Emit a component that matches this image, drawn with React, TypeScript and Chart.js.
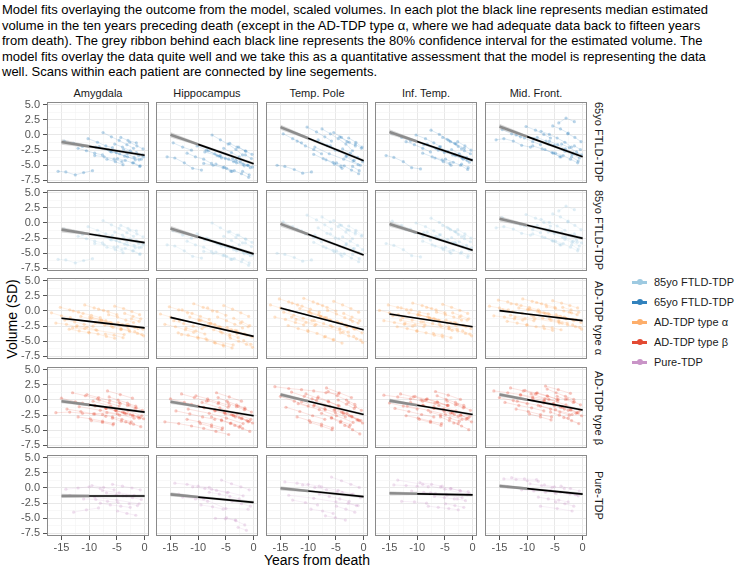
import React, { useEffect, useRef } from 'react';
import { Chart, registerables } from 'chart.js';
Chart.register(...registerables);

// ---------- text ----------
const titleLines = [
  'Model fits overlaying the outcome from the model, scaled volumes. In each plot the black line represents median estimated',
  'volume in the ten years preceding death (except in the AD-TDP type \u03b1, where we had adequate data back to fifteen years',
  'from death). The grey ribbon behind each black line represents the 80% confidence interval for the estimated volume. The',
  'model fits overlay the data quite well and we take this as a quantitative assessment that the model is representing the data',
  'well. Scans within each patient are connected by line segements.',
];
const regions = ['Amygdala', 'Hippocampus', 'Temp. Pole', 'Inf. Temp.', 'Mid. Front.'];
const rowLabels = ['65yo FTLD-TDP', '85yo FTLD-TDP', 'AD-TDP type \u03b1', 'AD-TDP type \u03b2', 'Pure-TDP'];
const legendLabels = ['85yo FTLD-TDP', '65yo FTLD-TDP', 'AD-TDP type \u03b1', 'AD-TDP type \u03b2', 'Pure-TDP'];
const xTitle = 'Years from death';
const yTitle = 'Volume (SD)';

// ---------- ticks ----------
const xMajorTicks = [-15, -10, -5, 0];
const xMinorTicks = [-17.5, -12.5, -7.5, -2.5];
const yMajorTicks = [-7.5, -5, -2.5, 0, 2.5, 5];
const yMinorTicks = [-6.25, -3.75, -1.25, 1.25, 3.75];
const xRange = [-17.6, 0.78];
const yRange = [-7.93, 5.45];

// ---------- FTLD-TDP scans (shared by 65yo / 85yo rows) ----------
const ftldYears = [
  [-15.6, -14.2, -12.5, -11.0, -9.4], [-14.5, -12.8, -11.2], [-12.0, -10.5, -9.0, -7.6], [-10.2, -8.5, -7.0, -5.8],
  [-9.0, -7.3, -5.5, -4.1], [-8.2, -6.6, -5.1], [-7.5, -6.0, -4.6, -3.2, -2.0], [-6.8, -5.3, -3.9],
  [-6.0, -4.5, -3.1, -1.7], [-5.4, -4.0, -2.6], [-4.9, -3.5, -2.2, -0.9], [-4.3, -3.0, -1.5],
  [-3.8, -2.4, -1.1, -0.2], [-3.2, -1.9, -0.6], [-2.7, -1.4, -0.3], [-2.0, -0.8], [-1.5, -0.4], [-8.8, -6.2, -3.6, -1.0],
];
const ftldAmygdala = [
  -6.0, -6.1, -6.6, -6.2, -5.9, -1.0, -1.4, -1.9, -2.2, -2.6, -3.0, -3.3, -0.6, -1.2, -1.8, -2.1,
  -3.4, -3.6, -4.0, -4.4, -1.9, -2.4, -2.9, 0.4, -0.3, -0.9, -1.6, -2.2, -4.0, -4.4, -4.9,
  -2.8, -3.1, -3.6, -4.1, -1.5, -2.0, -2.6, -3.9, -4.2, -4.6, -5.2, -0.4, -0.9, -1.3,
  -2.4, -2.9, -3.4, -3.6, -3.1, -3.7, -4.0, -1.2, -1.8, -2.3, -4.6, -5.1, -2.9, -3.3, -2.0, -2.7, -3.5, -4.1,
];
const ftldHippocampus = [
  -3.6, -3.8, -4.6, -5.5, -5.8, -1.3, -2.0, -2.5, -3.0, -3.6, -4.0, -4.7, -1.8, -2.5, -3.1, -3.8,
  -4.7, -5.0, -5.4, -6.0, -2.6, -3.4, -3.9, 0.0, -0.8, -1.5, -2.4, -3.3, -4.8, -5.3, -6.0,
  -3.4, -4.0, -4.6, -5.1, -2.2, -2.9, -3.6, -5.5, -5.9, -6.4, -7.0, -1.4, -2.0, -2.6,
  -3.9, -4.4, -5.0, -5.3, -4.2, -4.8, -5.4, -2.0, -2.7, -3.2, -6.0, -6.6, -3.3, -3.9, -2.8, -3.5, -4.4, -5.0,
];
const ftldTempPole = [
  -5.0, -5.2, -5.7, -6.3, -6.1, 0.2, -0.6, -1.3, -1.0, -1.8, -2.4, -3.1, 1.3, 0.5, -0.3, -1.0,
  -3.2, -3.9, -4.5, -5.2, -0.8, -1.7, -2.5, 1.0, 0.2, -0.6, -1.5, -2.6, -4.1, -4.8, -5.5,
  -1.8, -2.6, -3.4, -4.2, 0.4, -0.4, -1.2, -4.6, -5.1, -5.8, -6.4, -0.3, -1.1, -1.8,
  -2.3, -3.0, -3.7, -4.4, -3.6, -4.3, -5.0, -0.5, -1.2, -2.0, -5.2, -5.9, -1.5, -2.2, -2.0, -3.1, -4.0, -4.9,
];
const ftldInfTemp = [
  -3.4, -3.7, -4.4, -5.4, -5.6, 0.3, -0.4, -1.0, -1.1, -1.6, -2.2, -2.8, 0.0, -0.6, -1.3, -1.9,
  -3.0, -3.6, -4.1, -4.7, -1.5, -2.2, -2.9, 0.8, 0.1, -0.7, -1.4, -2.3, -3.8, -4.4, -5.0,
  -2.0, -2.7, -3.4, -4.0, -0.4, -1.1, -1.9, -4.0, -4.5, -5.0, -5.7, -0.9, -1.5, -2.2,
  -2.4, -3.1, -3.7, -4.1, -3.2, -3.8, -4.5, -1.1, -1.8, -2.5, -4.8, -5.4, -2.6, -3.1, -1.6, -2.5, -3.3, -4.2,
];
const ftldMidFront = [
  -0.8, -0.6, -1.0, -1.7, -2.0, 0.9, 0.2, -0.3, 0.0, -0.5, -1.1, -1.6, 1.4, 0.8, 0.1, -0.5,
  -1.8, -2.3, -2.9, -3.6, -0.4, -1.0, -1.7, 0.6, 0.1, -0.5, -1.2, -2.0, -2.4, -3.0, -3.6,
  -1.0, -1.6, -2.3, -3.0, 1.5, 1.0, 0.3, -3.0, -3.4, -4.0, -4.6, 2.0, 2.8, 2.2,
  -1.5, -2.1, -2.8, -3.3, -2.7, -3.2, -3.8, 0.2, -0.4, -1.1, -3.6, -4.3, -1.8, -2.4, -0.6, -1.5, -2.4, -3.2,
];

// ---------- AD-TDP type alpha ----------
const alphaYears = [
  [-16.8, -15.0, -13.4], [-16.0, -14.1, -12.3, -10.8], [-15.2, -13.5, -11.9], [-14.4, -12.6, -10.9, -9.3],
  [-13.6, -11.8, -10.0], [-12.9, -11.1, -9.6, -8.0], [-12.2, -10.4, -8.8], [-11.5, -9.8, -8.1, -6.7],
  [-10.8, -9.1, -7.4], [-10.1, -8.4, -6.9, -5.4], [-9.5, -7.8, -6.2], [-8.9, -7.2, -5.7, -4.3],
  [-8.3, -6.6, -5.0], [-7.7, -6.0, -4.5, -3.0], [-7.1, -5.5, -3.9], [-6.5, -4.9, -3.4, -2.0],
  [-6.0, -4.3, -2.8], [-5.4, -3.8, -2.3, -0.9], [-4.8, -3.3, -1.8], [-4.2, -2.7, -1.3, -0.2],
  [-3.6, -2.1, -0.7], [-3.0, -1.6, -0.3], [-2.4, -1.0], [-1.8, -0.5], [-9.9, -7.0, -4.0, -1.2], [-13.0, -8.6, -3.7],
];
const alphaAmygdala = [
  -0.3, -0.8, -1.1, -2.0, -2.2, -2.6, -2.9, 0.6, 0.2, -0.2, -1.5, -1.8, -2.2, -2.5,
  -3.0, -3.3, -3.6, 0.0, -0.4, -0.7, -1.1, -2.4, -2.7, -3.1, -0.9, -1.3, -1.6, -2.0,
  1.0, 0.5, 0.1, -3.5, -3.8, -4.2, -4.5, -1.1, -1.5, -1.9, -2.0, -2.3, -2.7, -3.1,
  0.3, -0.1, -0.6, -1.6, -2.0, -2.4, -2.8, -3.8, -4.0, -4.4, -0.6, -1.0, -1.5, -1.9,
  -2.5, -2.9, -3.2, 0.8, 0.4, -0.1, -0.6, -1.9, -2.3, -2.7, -3.0, -3.4, -3.7, -4.1,
  -0.4, -0.9, -1.3, -2.2, -2.6, -3.0, -1.3, -1.7, -3.4, -3.9, -1.0, -1.6, -2.3, -2.9, -2.8, -3.2, -3.9,
];
const alphaHippocampus = [
  -0.5, -1.0, -1.6, -2.2, -2.6, -3.1, -3.5, 0.7, 0.2, -0.3, -1.6, -2.1, -2.5, -2.9,
  -3.6, -4.0, -4.5, 0.2, -0.4, -0.9, -1.4, -2.8, -3.3, -3.8, -1.0, -1.6, -2.1, -2.7,
  1.2, 0.6, 0.0, -4.3, -4.8, -5.3, -5.8, -1.5, -2.0, -2.6, -2.6, -3.1, -3.6, -4.2,
  0.5, -0.1, -0.7, -2.1, -2.7, -3.2, -3.8, -5.2, -5.6, -6.1, -1.0, -1.6, -2.2, -2.8,
  -3.4, -3.9, -4.4, 0.9, 0.3, -0.3, -0.9, -2.7, -3.2, -3.8, -4.5, -5.0, -5.5, -6.0,
  -1.2, -1.8, -2.4, -3.3, -3.8, -4.3, -2.0, -2.6, -4.9, -5.5, -1.4, -2.2, -3.1, -4.0, -3.9, -4.6, -5.6,
];
const alphaTempPole = [
  1.0, 0.5, 0.0, -1.0, -1.4, -1.9, -2.3, 2.0, 1.5, 1.0, -0.2, -0.7, -1.2, -1.6,
  -2.4, -2.9, -3.4, 1.3, 0.8, 0.3, -0.2, -1.4, -1.9, -2.4, 0.4, -0.1, -0.6, -1.1,
  2.1, 1.5, 0.9, -3.2, -3.7, -4.2, -4.7, -0.4, -0.9, -1.5, -1.6, -2.1, -2.6, -3.1,
  1.2, 0.6, 0.0, -0.9, -1.5, -2.0, -2.6, -4.3, -4.8, -5.3, 0.1, -0.5, -1.1, -1.7,
  -2.4, -2.9, -3.5, 1.6, 1.0, 0.4, -0.2, -1.7, -2.3, -2.9, -3.6, -4.1, -4.6, -5.2,
  -0.4, -1.0, -1.6, -2.5, -3.0, -3.6, -1.4, -2.0, -4.2, -4.8, -0.2, -1.1, -2.0, -2.9, -1.0, -2.2, -3.5,
];
const alphaInfTemp = [
  0.1, -0.3, -0.6, -1.6, -1.9, -2.2, -2.5, 1.0, 0.6, 0.2, -0.8, -1.1, -1.5, -1.8,
  -2.6, -2.9, -3.3, 0.5, 0.2, -0.2, -0.5, -2.0, -2.3, -2.6, -0.3, -0.6, -1.0, -1.4,
  1.3, 0.9, 0.4, -3.3, -3.6, -4.0, -4.3, -0.7, -1.1, -1.5, -1.8, -2.1, -2.5, -2.9,
  0.6, 0.2, -0.3, -1.2, -1.6, -2.0, -2.4, -3.7, -4.0, -4.4, -0.2, -0.6, -1.0, -1.5,
  -2.2, -2.6, -3.0, 1.1, 0.6, 0.1, -0.4, -1.5, -1.9, -2.4, -2.9, -3.3, -3.7, -4.1,
  -0.3, -0.8, -1.3, -2.0, -2.4, -2.9, -1.0, -1.5, -3.3, -3.8, -0.6, -1.2, -1.9, -2.6, -1.5, -2.3, -3.2,
];
const alphaMidFront = [
  0.8, 0.5, 0.2, -0.8, -1.0, -1.3, -1.5, 1.8, 1.5, 1.1, 0.2, -0.1, -0.4, -0.7,
  -1.7, -2.0, -2.3, 1.2, 0.9, 0.6, 0.2, -1.0, -1.3, -1.6, 0.5, 0.2, -0.1, -0.4,
  2.0, 1.6, 1.2, -2.3, -2.6, -2.9, -3.2, 0.3, 0.0, -0.4, -0.9, -1.2, -1.5, -1.8,
  1.4, 1.0, 0.6, -0.3, -0.6, -1.0, -1.3, -2.5, -2.8, -3.1, 0.7, 0.4, 0.0, -0.3,
  -1.3, -1.6, -2.0, 1.7, 1.3, 0.9, 0.5, -0.6, -1.0, -1.4, -2.0, -2.3, -2.6, -3.0,
  0.6, 0.2, -0.2, -1.2, -1.6, -1.9, -0.2, -0.6, -2.3, -2.7, 0.3, -0.3, -0.9, -1.4, -0.7, -1.3, -2.0,
];

// ---------- AD-TDP type beta ----------
const betaYears = [
  [-16.0, -13.5, -11.2, -9.0, -6.8, -4.5], [-15.0, -12.5, -10.0], [-14.0, -11.5, -9.2, -7.0], [-13.0, -10.7, -8.5],
  [-12.0, -9.8, -7.6, -5.6], [-11.2, -9.0, -6.9], [-10.4, -8.3, -6.3, -4.4], [-9.6, -7.6, -5.7],
  [-8.9, -7.0, -5.1, -3.3], [-8.2, -6.4, -4.6], [-7.6, -5.8, -4.1, -2.4], [-7.0, -5.3, -3.6],
  [-6.4, -4.8, -3.1, -1.6], [-5.8, -4.2, -2.6], [-5.2, -3.7, -2.1, -0.8], [-4.6, -3.1, -1.7],
  [-4.0, -2.6, -1.2, -0.2], [-3.4, -2.0, -0.7], [-2.8, -1.5, -0.4], [-2.2, -1.0],
  [-9.3, -6.1, -3.0, -0.5], [-6.7, -4.4, -2.2], [-11.8, -8.0, -4.9, -1.9],
];
const betaAmygdala = [
  -2.1, -2.0, -2.2, -2.3, -2.1, -2.5, 0.3, -0.3, -0.8, -1.5, -1.9, -2.3, -2.7, 1.2, 0.7, 0.2,
  -2.8, -3.1, -3.5, -3.9, -0.5, -0.9, -1.4, 0.9, 0.4, -0.1, -0.6, -3.4, -3.7, -4.1,
  -1.0, -1.4, -1.8, -2.3, 0.0, -0.5, -1.0, -2.4, -2.8, -3.2, -3.6, -1.3, -1.7, -2.2,
  0.5, 0.0, -0.5, -1.0, -3.0, -3.5, -3.9, -1.7, -2.1, -2.5, -2.9, -0.4, -0.9, -1.4,
  -2.0, -2.4, -2.8, -3.1, -3.6, -4.0, -4.4, -0.8, -1.3, -1.7, -2.6, -3.0,
  -0.2, -1.0, -1.8, -2.6, 1.5, 0.9, 0.3, -1.1, -1.7, -2.3, -3.0,
];
const betaHippocampus = [
  -3.6, -3.9, -4.3, -4.7, -5.2, -5.7, 0.2, -0.4, -1.0, -1.8, -2.3, -2.8, -3.2, 1.0, 0.4, -0.2,
  -3.2, -3.6, -4.1, -4.6, -0.7, -1.2, -1.7, 0.7, 0.2, -0.4, -0.9, -3.9, -4.4, -4.9,
  -1.3, -1.8, -2.3, -2.8, -0.1, -0.6, -1.2, -2.8, -3.3, -3.8, -4.3, -1.6, -2.1, -2.6,
  0.4, -0.2, -0.8, -1.3, -3.4, -3.9, -4.5, -2.0, -2.5, -3.0, -3.5, -0.5, -1.1, -1.6,
  -2.4, -2.9, -3.4, -3.8, -4.2, -4.7, -5.2, -1.0, -1.5, -2.0, -3.1, -3.6,
  -0.4, -1.3, -2.3, -3.2, 1.2, 0.5, -0.2, -1.5, -2.2, -3.0, -3.9,
];
const betaTempPole = [
  2.2, 1.9, 1.7, 1.5, 1.2, 1.0, 0.6, -0.2, -1.0, -1.2, -1.9, -2.6, -3.2, 1.3, 0.6, -0.1,
  -2.8, -3.4, -4.0, -4.6, -0.3, -1.0, -1.6, 1.0, 0.3, -0.3, -1.0, -3.7, -4.3, -4.9,
  -0.8, -1.5, -2.1, -2.8, 0.5, -0.2, -0.9, -2.2, -2.9, -3.5, -4.1, -1.0, -1.7, -2.3,
  1.4, 0.7, 0.0, -0.7, -3.0, -3.7, -4.4, -1.5, -2.1, -2.8, -3.4, 0.0, -0.7, -1.4,
  -2.0, -2.6, -3.3, -3.8, -4.2, -4.9, -5.6, -0.4, -1.1, -1.7, -2.7, -3.3,
  0.2, -1.0, -2.2, -3.4, 2.0, 1.2, 0.4, -0.6, -1.6, -2.6, -3.7,
];
const betaInfTemp = [
  0.8, 0.5, 0.2, -0.2, -0.5, -0.9, -0.5, -1.0, -1.5, -1.4, -1.9, -2.4, -2.8, 1.0, 0.5, 0.0,
  -2.6, -3.0, -3.5, -3.9, -0.4, -0.9, -1.4, 0.6, 0.1, -0.4, -0.9, -3.2, -3.7, -4.2,
  -0.9, -1.4, -1.9, -2.4, 0.2, -0.3, -0.9, -2.0, -2.5, -3.0, -3.5, -1.1, -1.6, -2.1,
  0.7, 0.1, -0.4, -0.9, -2.8, -3.4, -3.9, -1.5, -2.0, -2.5, -3.0, -0.2, -0.8, -1.3,
  -2.2, -2.7, -3.2, -3.6, -3.8, -4.3, -4.9, -0.7, -1.2, -1.7, -2.5, -3.0,
  0.0, -0.9, -1.8, -2.7, 1.4, 0.8, 0.1, -1.0, -1.7, -2.4, -3.2,
];
const betaMidFront = [
  1.5, 1.2, 0.9, 0.5, 0.2, -0.2, 0.4, -0.1, -0.6, -0.4, -0.9, -1.3, -1.8, 2.0, 1.5, 1.0,
  -1.5, -1.9, -2.4, -2.8, 0.8, 0.3, -0.2, 1.6, 1.1, 0.6, 0.1, -2.3, -2.8, -3.3,
  0.0, -0.5, -1.0, -1.5, 1.2, 0.7, 0.1, -1.0, -1.5, -2.0, -2.5, -0.1, -0.6, -1.1,
  1.8, 1.2, 0.6, 0.1, -2.0, -2.5, -3.0, -0.6, -1.1, -1.6, -2.1, 0.6, 0.1, -0.4,
  -1.2, -1.7, -2.2, -2.6, -2.9, -3.4, -3.9, 0.2, -0.3, -0.8, -1.6, -2.1,
  1.0, 0.1, -0.8, -1.7, 2.3, 1.7, 1.1, -0.2, -0.9, -1.6, -2.4,
];

// ---------- Pure-TDP ----------
const pureYears = [
  [-14.2, -12.0, -10.0, -8.0], [-12.8, -10.5, -8.3], [-11.0, -8.8, -6.7, -4.8], [-9.5, -7.4, -5.5],
  [-8.0, -6.2, -4.3, -2.6], [-6.9, -5.1, -3.3], [-5.8, -4.0, -2.3, -0.8], [-4.9, -3.2, -1.6],
  [-3.9, -2.2, -0.6], [-2.8, -1.3], [-7.6, -4.6, -1.9], [-13.5, -9.0, -5.0, -1.0],
];
const pureAmygdala = [
  -0.2, 0.0, 0.2, -0.1, -4.0, -3.6, -3.3, -1.8, -1.9, -2.2, -2.4, 0.4, 0.1, -0.3,
  -2.5, -2.8, -3.0, -3.2, -0.8, -1.1, -1.3, 0.6, 0.3, 0.0, -0.3, -3.8, -4.2, -4.5,
  -1.3, -1.6, -1.9, -2.6, -2.9, -0.4, -0.8, -1.2, -1.2, -1.5, -2.0, -2.6,
];
const pureHippocampus = [
  0.8, 0.6, 0.3, 0.1, -1.5, -1.8, -2.2, 0.2, -0.1, -0.4, -0.8, -2.8, -3.1, -3.5,
  -0.7, -1.0, -1.4, -1.8, -5.0, -5.1, -5.3, 1.3, 0.7, 0.2, -0.3, -4.9, -5.4, -6.1,
  -2.2, -2.6, -3.0, -6.5, -7.0, -0.2, -0.7, -1.3, -1.0, -1.8, -3.4, -3.5,
];
const pureTempPole = [
  1.0, 0.8, 0.6, 0.3, -2.0, -2.4, -2.8, 0.5, 0.1, -0.3, -0.7, -3.5, -3.8, -4.2,
  -1.0, -1.4, -1.8, -2.2, -4.6, -4.9, -5.3, 1.8, 1.2, 0.6, 0.1, -3.0, -3.5, -4.0,
  -0.7, -1.1, -1.6, -2.5, -2.9, 0.2, -0.4, -1.0, -1.2, -1.7, -2.3, -2.9,
];
const pureInfTemp = [
  0.5, 0.4, 0.3, 0.2, -2.2, -2.3, -2.5, -0.5, -0.7, -0.9, -1.0, 0.9, 0.6, 0.3,
  -3.0, -3.2, -3.4, -3.6, -1.4, -1.6, -1.8, 0.2, -0.1, -0.4, -0.6, -2.6, -2.9, -3.2,
  -0.1, -0.5, -0.9, -1.8, -2.1, -0.8, -1.2, -1.6, 1.3, 0.6, -0.2, -1.1,
];
const pureMidFront = [
  1.5, 1.4, 1.2, 1.1, 1.7, 1.5, 1.4, -0.3, -0.5, -0.7, -0.9, 0.7, 0.4, 0.1,
  -1.5, -1.8, -2.0, -2.3, 0.5, 0.2, -0.1, -0.4, -0.7, -1.0, -1.3, -2.3, -2.6, -3.0,
  0.3, -0.1, -0.5, -0.8, -1.1, -3.0, -3.4, -3.8, 0.2, -0.2, -0.6, -1.0,
];

// ---------- model fits: median at -15, -10 and 0 years, per region ----------
const fitYears = [-15, -10, 0];
const fit65yo = [[-1.15, -1.88, -3.35], [0.05, -1.55, -4.75], [1.3, -0.55, -4.25], [0.5, -1.07, -4.2], [1.4, -0.27, -3.6]];
const fit85yo = [[-1.1, -1.82, -3.25], [-0.9, -2.3, -5.1], [-0.15, -1.87, -5.3], [-0.15, -1.6, -4.5], [0.7, -0.38, -2.55]];
const fitAlpha = [[-1.2, -1.73, -2.8], [-1.05, -2.1, -4.2], [0.5, -0.7, -3.1], [-0.5, -1.2, -2.6], [0.05, -0.5, -1.6]];
const fitBeta = [[-0.2, -0.8, -2.0], [-0.3, -1.07, -2.6], [0.9, -0.2, -2.4], [-0.1, -0.87, -2.4], [0.9, 0.05, -1.65]];
const fitPure = [[-1.32, -1.32, -1.32], [-1.05, -1.5, -2.37], [-0.05, -0.5, -1.43], [-0.87, -0.96, -1.15], [0.33, -0.1, -1.0]];
// 80% interval half-widths at -15, -10, 0
const ribbon65yo = [0.45, 0.22, 0.25];
const ribbon85yo = [0.45, 0.22, 0.25];
const ribbonAlpha = [0.2, 0.12, 0.18];
const ribbonBeta = [0.35, 0.18, 0.22];
const ribbonPure = [0.35, 0.2, 0.25];

// ---------- colours ----------
const col85 = '#9ecae1';
const col65 = '#3182bd';
const colAlpha = '#fdae6b';
const colBeta = '#e34a33';
const colPure = '#c994c7';
const legendColors = [col85, col65, colAlpha, colBeta, colPure];

const rows = [
  { years: ftldYears, values: [ftldAmygdala, ftldHippocampus, ftldTempPole, ftldInfTemp, ftldMidFront], color: col65, alpha: 0.32, fits: fit65yo, ribbon: ribbon65yo, fullBlack: false },
  { years: ftldYears, values: [ftldAmygdala, ftldHippocampus, ftldTempPole, ftldInfTemp, ftldMidFront], color: col85, alpha: 0.3, fits: fit85yo, ribbon: ribbon85yo, fullBlack: false },
  { years: alphaYears, values: [alphaAmygdala, alphaHippocampus, alphaTempPole, alphaInfTemp, alphaMidFront], color: colAlpha, alpha: 0.35, fits: fitAlpha, ribbon: ribbonAlpha, fullBlack: true },
  { years: betaYears, values: [betaAmygdala, betaHippocampus, betaTempPole, betaInfTemp, betaMidFront], color: colBeta, alpha: 0.3, fits: fitBeta, ribbon: ribbonBeta, fullBlack: false },
  { years: pureYears, values: [pureAmygdala, pureHippocampus, pureTempPole, pureInfTemp, pureMidFront], color: colPure, alpha: 0.28, fits: fitPure, ribbon: ribbonPure, fullBlack: false },
];

// ---------- layout ----------
const PANEL_LEFT = [47, 156, 266, 375, 485];
const PANEL_TOP = [102, 190, 278, 367, 455];
const PANEL_W = 102;
const PANEL_H = 81;
const M = 8;
const Y_AXIS_W = 47;
const X_AXIS_H = 20;
const FONT = "'Liberation Sans', Arial, Helvetica, sans-serif";

function rgba(hex: string, a: number) {
  const n = parseInt(hex.slice(1), 16);
  return `rgba(${(n >> 16) & 255},${(n >> 8) & 255},${n & 255},${a})`;
}

function patients(years: number[][], values: number[]) {
  const out: { x: number; y: number }[][] = [];
  let k = 0;
  for (const p of years) {
    const pts: { x: number; y: number }[] = [];
    for (const t of p) {
      if (k < values.length) pts.push({ x: t, y: values[k] });
      k++;
    }
    out.push(pts);
  }
  return out;
}

const borderPlugin = {
  id: 'panelBorder',
  afterDraw(chart: any) {
    const { ctx, chartArea: a } = chart;
    ctx.save();
    ctx.strokeStyle = '#8a8a8a';
    ctx.lineWidth = 1;
    ctx.strokeRect(a.left + 0.5, a.top + 0.5, a.right - a.left - 1, a.bottom - a.top - 1);
    ctx.restore();
  },
};

function isMember(list: number[], v: number) {
  return list.some((t) => Math.abs(t - v) < 1e-6);
}

function makeConfig(r: number, c: number): any {
  const row = rows[r];
  const fit = row.fits[c];
  const rib = row.ribbon;
  const showY = c === 0;
  const showX = r === 4;
  const ds: any[] = [];
  const blackFrom = row.fullBlack ? 0 : 1;
  ds.push({
    data: fitYears.slice(blackFrom).map((x, i) => ({ x, y: fit[i + blackFrom] })),
    showLine: true, borderColor: '#000', borderWidth: 1.7, pointRadius: 0, order: 0,
  });
  if (!row.fullBlack) {
    ds.push({
      data: fitYears.slice(0, 2).map((x, i) => ({ x, y: fit[i] })),
      showLine: true, borderColor: '#8c8c8c', borderWidth: 2.6, pointRadius: 0, order: 1,
    });
  }
  ds.push({
    data: fitYears.map((x, i) => ({ x, y: fit[i] - rib[i] })),
    showLine: true, borderColor: 'rgba(0,0,0,0)', borderWidth: 0, pointRadius: 0, order: 2, fill: false,
  });
  ds.push({
    data: fitYears.map((x, i) => ({ x, y: fit[i] + rib[i] })),
    showLine: true, borderColor: 'rgba(0,0,0,0)', borderWidth: 0, pointRadius: 0, order: 2,
    fill: '-1', backgroundColor: 'rgba(160,160,160,0.4)',
  });
  for (const p of patients(row.years, row.values[c])) {
    ds.push({
      data: p, showLine: true, borderColor: rgba(row.color, row.alpha * 0.75), borderWidth: 0.7,
      pointRadius: 1.6, pointBackgroundColor: rgba(row.color, row.alpha), pointBorderWidth: 0, order: 5,
    });
  }
  const tickFont = { family: FONT, size: 11 };
  return {
    type: 'scatter',
    data: { datasets: ds },
    options: {
      animation: false,
      responsive: false,
      events: [],
      layout: { padding: M },
      plugins: { legend: { display: false }, tooltip: { enabled: false } },
      scales: {
        x: {
          type: 'linear', min: xRange[0], max: xRange[1],
          afterBuildTicks: (s: any) => { s.ticks = [...xMinorTicks, ...xMajorTicks].sort((a, b) => a - b).map((v) => ({ value: v })); },
          afterFit: (s: any) => { s.height = showX ? X_AXIS_H : 0; s.paddingLeft = 0; s.paddingRight = 0; s.paddingTop = 0; s.paddingBottom = 0; },
          ticks: {
            display: showX, autoSkip: false, maxRotation: 0, padding: 1, color: '#555', font: tickFont,
            callback: (v: number) => (isMember(xMajorTicks, v) ? String(v) : ''),
          },
          grid: {
            color: (ctx: any) => (ctx.tick && isMember(xMajorTicks, ctx.tick.value) ? '#e8e8e8' : '#f3f3f3'),
            lineWidth: (ctx: any) => (ctx.tick && isMember(xMajorTicks, ctx.tick.value) ? 1 : 0.6),
            drawTicks: showX, tickLength: 4,
            tickColor: (ctx: any) => (ctx.tick && isMember(xMajorTicks, ctx.tick.value) ? '#555' : 'rgba(0,0,0,0)'),
          },
          border: { display: false },
        },
        y: {
          type: 'linear', min: yRange[0], max: yRange[1],
          afterBuildTicks: (s: any) => { s.ticks = [...yMinorTicks, ...yMajorTicks].sort((a, b) => a - b).map((v) => ({ value: v })); },
          afterFit: (s: any) => { s.width = showY ? Y_AXIS_W : 0; s.paddingLeft = 0; s.paddingRight = 0; s.paddingTop = 0; s.paddingBottom = 0; },
          ticks: {
            display: showY, autoSkip: false, padding: 3, color: '#555', font: tickFont,
            callback: (v: number) => (isMember(yMajorTicks, v) ? v.toFixed(1) : ''),
          },
          grid: {
            color: (ctx: any) => (ctx.tick && isMember(yMajorTicks, ctx.tick.value) ? '#e8e8e8' : '#f3f3f3'),
            lineWidth: (ctx: any) => (ctx.tick && isMember(yMajorTicks, ctx.tick.value) ? 1 : 0.6),
            drawTicks: showY, tickLength: 4,
            tickColor: (ctx: any) => (ctx.tick && isMember(yMajorTicks, ctx.tick.value) ? '#555' : 'rgba(0,0,0,0)'),
          },
          border: { display: false },
        },
      },
    },
    plugins: [borderPlugin],
  };
}

function canvasBox(r: number, c: number) {
  const extraL = c === 0 ? Y_AXIS_W : 0;
  const extraB = r === 4 ? X_AXIS_H : 0;
  return {
    left: PANEL_LEFT[c] - M - extraL,
    top: PANEL_TOP[r] - M,
    width: PANEL_W + 2 * M + extraL,
    height: PANEL_H + 2 * M + extraB,
  };
}

export default function App() {
  const refs = useRef<(HTMLCanvasElement | null)[]>([]);
  useEffect(() => {
    const charts: Chart[] = [];
    for (let r = 0; r < 5; r++) {
      for (let c = 0; c < 5; c++) {
        const cv = refs.current[r * 5 + c];
        if (cv) charts.push(new Chart(cv, makeConfig(r, c)));
      }
    }
    return () => charts.forEach((ch) => ch.destroy());
  }, []);

  const cells: any[] = [];
  for (let r = 0; r < 5; r++) {
    for (let c = 0; c < 5; c++) {
      const b = canvasBox(r, c);
      cells.push(
        <canvas
          key={`p${r}-${c}`}
          ref={(el) => { refs.current[r * 5 + c] = el; }}
          width={b.width}
          height={b.height}
          style={{ position: 'absolute', left: b.left, top: b.top, width: b.width, height: b.height }}
        />
      );
    }
  }

  return (
    <div style={{ position: 'absolute', left: 0, top: 0, width: 743, height: 574, background: '#fff', overflow: 'hidden', fontFamily: FONT }}>
      <div style={{ position: 'absolute', left: 2, top: 2, fontSize: 13, lineHeight: '15.5px', color: '#000', whiteSpace: 'pre' }}>
        {titleLines.map((l, i) => (<div key={i}>{l}</div>))}
      </div>
      {regions.map((t, c) => (
        <div key={t} style={{ position: 'absolute', left: PANEL_LEFT[c], top: 86, width: PANEL_W, textAlign: 'center', fontSize: 11, lineHeight: '14px', color: '#1a1a1a' }}>{t}</div>
      ))}
      {rowLabels.map((t, r) => (
        <div key={t} style={{ position: 'absolute', left: 592, top: PANEL_TOP[r], width: 14, height: PANEL_H, writingMode: 'vertical-rl', textAlign: 'center', fontSize: 11, lineHeight: '14px', color: '#1a1a1a' }}>{t}</div>
      ))}
      <div style={{ position: 'absolute', left: 12 - 100, top: 319 - 9, width: 200, height: 18, lineHeight: '18px', textAlign: 'center', fontSize: 14, color: '#000', transform: 'rotate(-90deg)' }}>{yTitle}</div>
      <div style={{ position: 'absolute', left: PANEL_LEFT[0], top: 551, width: PANEL_LEFT[4] + PANEL_W - PANEL_LEFT[0], textAlign: 'center', fontSize: 14, lineHeight: '18px', color: '#000' }}>{xTitle}</div>
      {legendLabels.map((t, i) => (
        <div key={t} style={{ position: 'absolute', left: 630, top: 282 + i * 20 - 8, height: 16, width: 110 }}>
          <div style={{ position: 'absolute', left: 2, top: 6.5, width: 15, height: 3, background: legendColors[i] }} />
          <div style={{ position: 'absolute', left: 6.5, top: 5, width: 6, height: 6, borderRadius: 3, background: legendColors[i] }} />
          <div style={{ position: 'absolute', left: 24, top: 0, lineHeight: '16px', fontSize: 11, color: '#1a1a1a', whiteSpace: 'nowrap' }}>{t}</div>
        </div>
      ))}
      {cells}
    </div>
  );
}
